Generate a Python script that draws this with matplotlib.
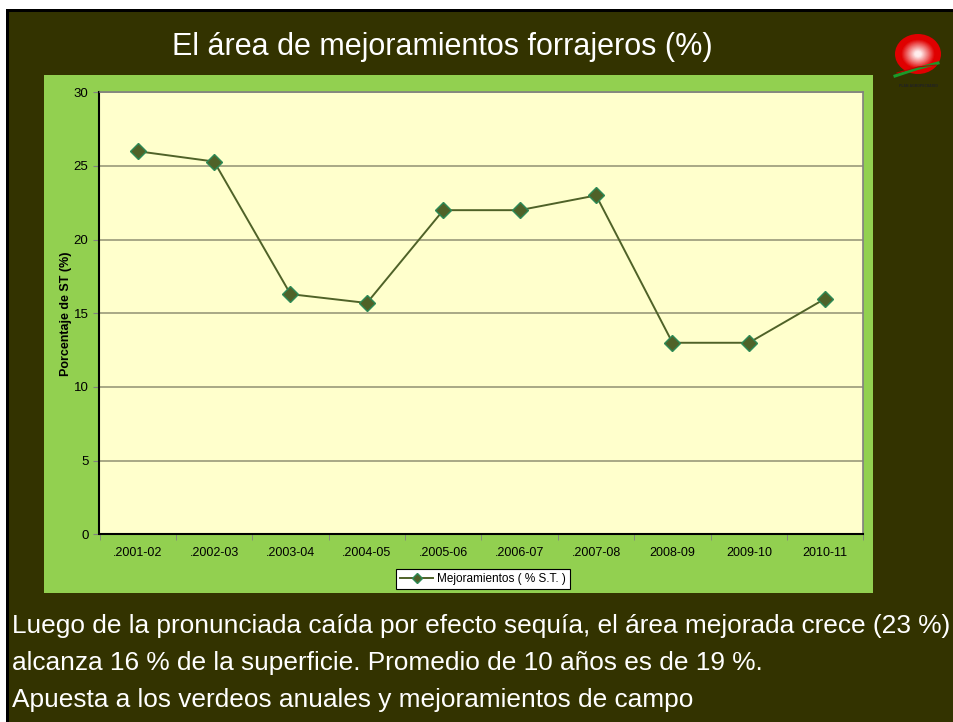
import numpy as np
import matplotlib
matplotlib.use("Agg")
import matplotlib.pyplot as plt
from matplotlib.patches import Rectangle, Ellipse

# chart data
seasons = ['.2001-02', '.2002-03', '.2003-04', '.2004-05', '.2005-06',
           '.2006-07', '.2007-08', '2008-09', '2009-10', '2010-11']
mejoramientos = [26.0, 25.3, 16.3, 15.7, 22.0, 22.0, 23.0, 13.0, 13.0, 16.0]
series_label = 'Mejoramientos ( % S.T. )'
y_ticks = [0, 5, 10, 15, 20, 25, 30]

title = 'El área de mejoramientos forrajeros (%)'
body_lines = [
    'Luego de la pronunciada caída por efecto sequía, el área mejorada crece (23 %)',
    'alcanza 16 % de la superficie. Promedio de 10 años es de 19 %.',
    'Apuesta a los verdeos anuales y mejoramientos de campo',
]

W, H = 954, 722
DARK = '#333300'
GREEN = '#92D050'
SANS = ['Liberation Sans', 'DejaVu Sans']


def box(x, y, w, h):
    # pixel box (top-left origin) -> figure fraction rect
    return [x / W, 1 - (y + h) / H, w / W, h / H]


fig = plt.figure(figsize=(W / 100, H / 100), dpi=100, facecolor='white')

# slide background
bg = fig.add_axes([0, 0, 1, 1])
bg.set_xlim(0, W)
bg.set_ylim(H, 0)
bg.axis('off')
bg.add_patch(Rectangle((6, 9), W - 6, H - 9, facecolor='black', edgecolor='none'))
bg.add_patch(Rectangle((9, 12), W - 9, H - 12, facecolor=DARK, edgecolor='none'))
bg.add_patch(Rectangle((44, 75), 829, 518, facecolor=GREEN, edgecolor='none'))

bg.text(442, 47, title, color='white', fontsize=22, family=SANS,
        ha='center', va='center')

for i, line in enumerate(body_lines):
    bg.text(12, 633 + i * 37, line, color='white', fontsize=18.9,
            family=SANS, ha='left', va='baseline')

# logo (red sphere with green swoosh)
red = np.array([0.88, 0.0, 0.0])
white = np.array([1.0, 0.93, 0.93])
for r in np.linspace(1.0, 0.08, 20):
    t = np.clip((0.75 - r) / 0.6, 0, 1)
    bg.add_patch(Ellipse((918, 54), 46 * r, 40 * r, facecolor=red * (1 - t) + white * t,
                         edgecolor='none'))
bg.plot([895, 916, 938], [76, 69, 63], color='#1a9a2a', lw=2.2)
bg.plot([897, 918, 936], [73, 67, 65], color='#c00000', lw=0.8)
bg.text(918, 86, 'PLAN AGROPECUARIO', color='#222222', fontsize=2.3,
        ha='center', va='center', fontweight='bold')

# chart
ax = fig.add_axes(box(99.5, 92.3, 764, 442))
ax.set_facecolor('#FFFFCC')
x = np.arange(len(seasons))
ax.plot(x, mejoramientos, color='#4F6228', lw=1.4, marker='D', markersize=8,
        markerfacecolor='#4F6228', markeredgecolor='#2E8B57', markeredgewidth=1.0,
        label=series_label, zorder=3)

ax.set_xlim(-0.5, len(seasons) - 0.5)
ax.set_ylim(0, 30)
ax.set_yticks(y_ticks)
ax.set_xticks(x)
ax.set_xticklabels(seasons)
ax.set_xticks(np.arange(-0.5, len(seasons), 1.0), minor=True)
ax.tick_params(axis='x', which='major', length=0, pad=9, labelsize=9)
ax.tick_params(axis='x', which='minor', length=4, color='#808080', direction='out')
ax.tick_params(axis='y', length=4, color='#808080', labelsize=9.5, pad=4)
for lbl in ax.get_xticklabels() + ax.get_yticklabels():
    lbl.set_family(SANS)

ax.yaxis.grid(True, color='#9A9A7A', lw=1.2)
ax.set_axisbelow(True)
for side in ['top', 'right']:
    ax.spines[side].set_color('#808080')
    ax.spines[side].set_linewidth(1.2)
for side in ['left', 'bottom']:
    ax.spines[side].set_color('black')
    ax.spines[side].set_linewidth(1.5)

ax.set_ylabel('Porcentaje de ST (%)', fontsize=9, fontweight='bold',
              family=SANS, labelpad=1)

leg = ax.legend(loc='center', bbox_to_anchor=((483 - 99.5) / 764, -(579 - 534.3) / 442),
                frameon=True, fancybox=False, edgecolor='black', framealpha=1,
                prop={'family': SANS, 'size': 8.5},
                handlelength=2.8, handletextpad=0.3, borderpad=0.35, markerscale=0.6)
leg.get_frame().set_linewidth(0.8)

fig.savefig('out.png', dpi=100, facecolor='white')
